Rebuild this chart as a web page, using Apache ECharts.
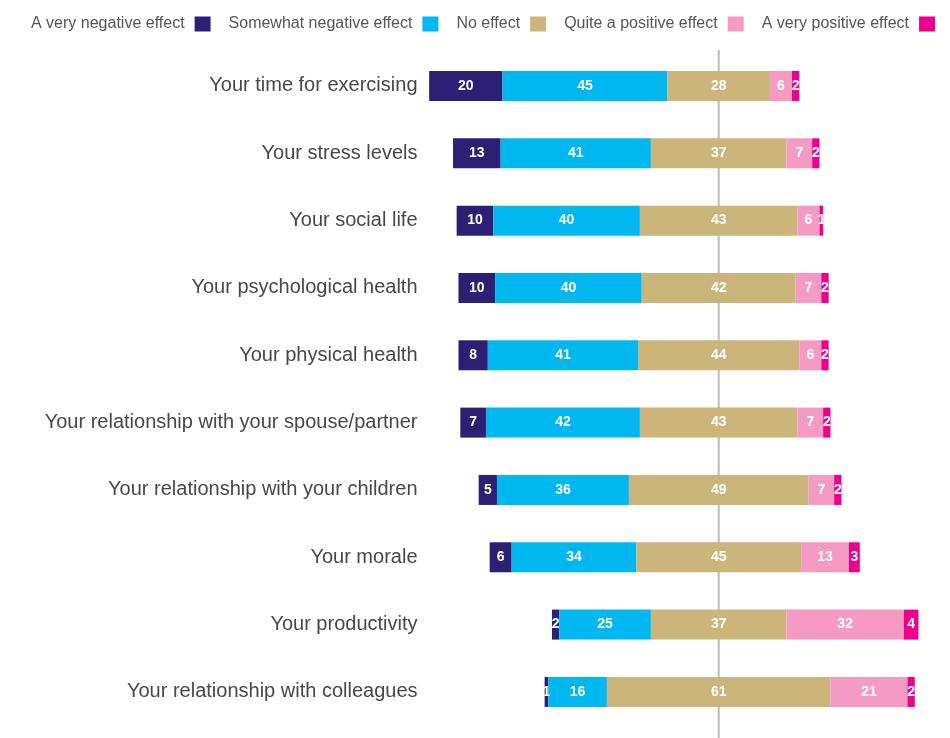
<!DOCTYPE html>
<html>
<head>
<meta charset="utf-8">
<title>Effects on daily life</title>
<script src="https://cdn.jsdelivr.net/npm/echarts@6/dist/echarts.min.js"></script>
<style>
  html, body { margin: 0; padding: 0; background: #ffffff; }
  #wrap { position: relative; width: 950px; height: 738px; }
  #base, #chart { position: absolute; left: 0; top: 0; width: 950px; height: 738px; }
  #base { z-index: 0; }
  #chart { z-index: 1; }
</style>
</head>
<body>
<div id="wrap">
  <div id="base"></div>
  <div id="chart"></div>
</div>
<script>
// Survey answers, percent of respondents per aspect
const categories = [
  'Your time for exercising',
  'Your stress levels',
  'Your social life',
  'Your psychological health',
  'Your physical health',
  'Your relationship with your spouse/partner',
  'Your relationship with your children',
  'Your morale',
  'Your productivity',
  'Your relationship with colleagues'
];
const seriesNames = [
  'A very negative effect',
  'Somewhat negative effect',
  'No effect',
  'Quite a positive effect',
  'A very positive effect'
];
const veryNegative     = [20, 13, 10, 10, 8, 7, 5, 6, 2, 1];
const somewhatNegative = [45, 41, 40, 40, 41, 42, 36, 34, 25, 16];
const noEffect         = [28, 37, 43, 42, 44, 43, 49, 45, 37, 61];
const quitePositive    = [6, 7, 6, 7, 6, 7, 7, 13, 32, 21];
const veryPositive     = [2, 2, 1, 2, 2, 2, 2, 3, 4, 2];

const colors = ['#2c1f74', '#00b7ef', '#cbb57b', '#f49ac3', '#ec008c'];

// Bars are centred on the middle of "No effect": a transparent spacer
// pushes each stack so that point lands on CENTER.
const CENTER = 80;
const AXIS_MAX = 140;
const spacer = categories.map((_, i) =>
  CENTER - (veryNegative[i] + somewhatNegative[i] + noEffect[i] / 2));

const values = [veryNegative, somewhatNegative, noEffect, quitePositive, veryPositive];
const FONT = '"Liberation Sans", Arial, Helvetica, sans-serif';
const PLOT_LEFT = 425.5;
const PLOT_WIDTH = 513.1;

// Bottom layer: the full-height centre reference line, kept behind the bars
const base = echarts.init(document.getElementById('base'), null, { renderer: 'canvas' });
base.setOption({
  animation: false,
  backgroundColor: '#ffffff',
  grid: { left: PLOT_LEFT, width: PLOT_WIDTH, top: 50, bottom: 0, containLabel: false },
  xAxis: { type: 'value', min: 0, max: AXIS_MAX, show: false },
  yAxis: { type: 'value', min: 0, max: 1, show: false },
  series: [{
    type: 'line',
    symbol: 'none',
    silent: true,
    lineStyle: { color: '#bcbcbc', width: 2 },
    data: [[CENTER, 0], [CENTER, 1]]
  }]
});

// Top layer: legend, category labels and the stacked bars
const barSeries = seriesNames.map((name, k) => ({
  name: name,
  type: 'bar',
  stack: 'total',
  barWidth: 30,
  itemStyle: { color: colors[k], opacity: 1 },
  label: {
    show: true,
    position: 'inside',
    color: '#ffffff',
    fontFamily: FONT,
    fontWeight: 'bold',
    fontSize: 14
  },
  emphasis: { disabled: true },
  data: values[k]
}));

const chart = echarts.init(document.getElementById('chart'), null, { renderer: 'canvas' });
chart.setOption({
  animation: false,
  legend: {
    data: seriesNames,
    left: 26,
    top: 11,
    align: 'right',
    itemWidth: 16,
    itemHeight: 15,
    itemGap: 18,
    icon: 'rect',
    selectedMode: false,
    textStyle: {
      color: '#555555',
      fontFamily: FONT,
      fontSize: 16,
      padding: [0, 5, 0, 0]
    }
  },
  grid: { left: PLOT_LEFT, width: PLOT_WIDTH, top: 52.3, height: 673.3, containLabel: false },
  xAxis: { type: 'value', min: 0, max: AXIS_MAX, show: false },
  yAxis: {
    type: 'category',
    inverse: true,
    data: categories,
    axisLine: { show: false },
    axisTick: { show: false },
    splitLine: { show: false },
    axisLabel: {
      margin: 8,
      color: '#474747',
      fontFamily: FONT,
      fontSize: 20
    }
  },
  series: [
    {
      name: 'spacer',
      type: 'bar',
      stack: 'total',
      barWidth: 30,
      itemStyle: { color: 'transparent' },
      emphasis: { disabled: true },
      silent: true,
      data: spacer
    },
    ...barSeries
  ]
});
</script>
</body>
</html>
